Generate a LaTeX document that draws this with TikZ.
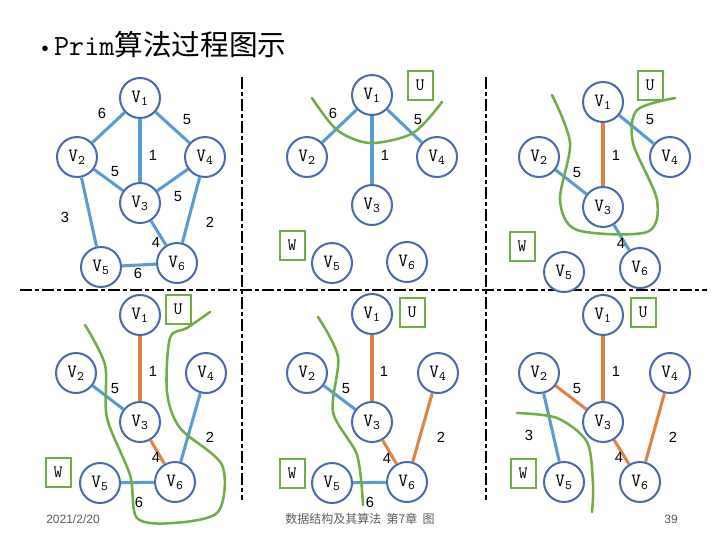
\documentclass[tikz,border=0pt]{standalone}
\usepackage{fontspec}
\setmainfont{Liberation Sans}
\newfontfamily\cjk{Noto Sans CJK SC}
\usetikzlibrary{calc}

\definecolor{vblue}{RGB}{72,104,175}
\definecolor{eblue}{RGB}{91,155,213}
\definecolor{eorange}{RGB}{222,130,70}
\definecolor{cutgreen}{RGB}{112,173,71}
\definecolor{footgray}{RGB}{90,90,90}

\begin{document}
\begin{tikzpicture}[x=0.75pt,y=-0.75pt,
    vtx/.style={circle, draw=vblue, line width=1.5pt, fill=white, minimum size=30pt,
      inner sep=0pt, font=\ttfamily\fontsize{14}{16}\selectfont},
    wt/.style={font=\fontsize{11}{13}\selectfont},
    setbox/.style={draw=cutgreen, line width=1.5pt, minimum width=18.75pt,
      minimum height=21.75pt, inner sep=0pt, font=\ttfamily\fontsize{13}{15}\selectfont},
    cand/.style={eblue, line width=2.3pt},
    tree/.style={eorange, line width=2.3pt},
    cut/.style={cutgreen, line width=1.9pt, line cap=round},
    divider/.style={line width=2.2pt, dash pattern=on 9pt off 2.5pt on 2.5pt off 2.5pt},
    foot/.style={text=footgray, font=\fontsize{9}{11}\selectfont}]

    \useasboundingbox (0,0) rectangle (720,540);

    % Title
    \node[anchor=west] (title) at (37,45)
      {{\fontsize{15}{18}\selectfont\textbullet}\hspace{4pt}{\fontsize{22}{24}\selectfont\ttfamily Prim}{\fontsize{21.5}{24}\selectfont\cjk 算法过程图示}};

    % Dividers
    \draw[divider] (20,290) -- (707,290);
    \draw[divider] (242,77) -- (242,500);
    \draw[divider] (486,77) -- (486,500);

    % ---- Panel a: the whole graph
    \node[vtx] (a1) at (140,98) {V\textsubscript{1}};
    \node[vtx] (a2) at (77,157) {V\textsubscript{2}};
    \node[vtx] (a4) at (205,157) {V\textsubscript{4}};
    \node[vtx] (a3) at (140,203) {V\textsubscript{3}};
    \node[vtx] (a5) at (101,267) {V\textsubscript{5}};
    \node[vtx] (a6) at (177,263) {V\textsubscript{6}};
    \draw[cand] (a1) -- (a2);
    \draw[cand] (a1) -- (a4);
    \draw[cand] (a1) -- (a3);
    \draw[cand] (a2) -- (a3);
    \draw[cand] (a4) -- (a3);
    \draw[cand] (a2) -- (a5);
    \draw[cand] (a4) -- (a6);
    \draw[cand] (a3) -- (a6);
    \draw[cand] (a5) -- (a6);
    \node[wt] (a12) at (102,113) {6};
    \node[wt] (a14) at (187,120) {5};
    \node[wt] (a13) at (153,155) {1};
    \node[wt] (a23) at (115,172) {5};
    \node[wt] (a34) at (178,197) {5};
    \node[wt] (a25) at (65,217) {3};
    \node[wt] (a46) at (210,222) {2};
    \node[wt] (a36) at (156,242) {4};
    \node[wt] (a56) at (138,273) {6};

    % ---- Panel b: U = {V1}
    \node[vtx] (b1) at (372,95) {V\textsubscript{1}};
    \node[vtx] (b2) at (307,157) {V\textsubscript{2}};
    \node[vtx] (b4) at (437,157) {V\textsubscript{4}};
    \node[vtx] (b3) at (372,205) {V\textsubscript{3}};
    \node[vtx] (b5) at (332,263) {V\textsubscript{5}};
    \node[vtx] (b6) at (407,262) {V\textsubscript{6}};
    \node[setbox] (bU) at (420,85) {U};
    \node[setbox] (bW) at (292,245) {W};
    \draw[cand] (b1) -- (b2);
    \draw[cand] (b1) -- (b3);
    \draw[cand] (b1) -- (b4);
    \node[wt] (b12) at (333,113) {6};
    \node[wt] (b14) at (418,120) {5};
    \node[wt] (b13) at (385,155) {1};
    \draw[cut] plot[smooth] coordinates {(312,98) (337,130) (370,143) (413,133) (442,102)};

    % ---- Panel c: U = {V1,V3}
    \node[vtx] (c1) at (603,102) {V\textsubscript{1}};
    \node[vtx] (c2) at (539,157) {V\textsubscript{2}};
    \node[vtx] (c4) at (670,157) {V\textsubscript{4}};
    \node[vtx] (c3) at (603,207) {V\textsubscript{3}};
    \node[vtx] (c5) at (564,272) {V\textsubscript{5}};
    \node[vtx] (c6) at (640,268) {V\textsubscript{6}};
    \node[setbox] (cU) at (650,85) {U};
    \node[setbox] (cW) at (522,246) {W};
    \draw[tree] (c1) -- (c3);
    \draw[cand] (c1) -- (c4);
    \draw[cand] (c2) -- (c3);
    \draw[cand] (c3) -- (c6);
    \node[wt] (c14) at (650,120) {5};
    \node[wt] (c13) at (616,155) {1};
    \node[wt] (c23) at (577,173) {5};
    \node[wt] (c36) at (621,243) {4};
    \draw[cut] plot[smooth] coordinates {(552,95) (570,143) (560,200) (577,230) (647,232)
      (657,200) (633,143) (637,110) (675,98)};

    % ---- Panel d: U = {V1,V3,V6}
    \node[vtx] (d1) at (140,315) {V\textsubscript{1}};
    \node[vtx] (d2) at (76,373) {V\textsubscript{2}};
    \node[vtx] (d4) at (206,373) {V\textsubscript{4}};
    \node[vtx] (d3) at (140,422) {V\textsubscript{3}};
    \node[vtx] (d5) at (100,483) {V\textsubscript{5}};
    \node[vtx] (d6) at (175,482) {V\textsubscript{6}};
    \node[setbox] (dU) at (178,309) {U};
    \node[setbox] (dW) at (58,472) {W};
    \draw[tree] (d1) -- (d3);
    \draw[cand] (d2) -- (d3);
    \draw[tree] (d3) -- (d6);
    \draw[cand] (d4) -- (d6);
    \draw[cand] (d5) -- (d6);
    \node[wt] (d13) at (153,371) {1};
    \node[wt] (d23) at (115,389) {5};
    \node[wt] (d46) at (210,437) {2};
    \node[wt] (d36) at (156,457) {4};
    \node[wt] (d56) at (139,502) {6};
    \draw[cut] plot[smooth] coordinates {(85,325) (105,365) (107,418) (130,475) (137,518)
      (173,523) (218,512) (222,465) (180,428) (167,392) (170,338) (187,328) (210,312)};

    % ---- Panel e: U = {V1,V3,V6,V4}
    \node[vtx] (e1) at (372,314) {V\textsubscript{1}};
    \node[vtx] (e2) at (307,373) {V\textsubscript{2}};
    \node[vtx] (e4) at (438,373) {V\textsubscript{4}};
    \node[vtx] (e3) at (372,422) {V\textsubscript{3}};
    \node[vtx] (e5) at (332,483) {V\textsubscript{5}};
    \node[vtx] (e6) at (407,482) {V\textsubscript{6}};
    \node[setbox] (eU) at (412,312) {U};
    \node[setbox] (eW) at (292,473) {W};
    \draw[tree] (e1) -- (e3);
    \draw[cand] (e2) -- (e3);
    \draw[tree] (e3) -- (e6);
    \draw[tree] (e4) -- (e6);
    \draw[cand] (e5) -- (e6);
    \node[wt] (e13) at (384,371) {1};
    \node[wt] (e23) at (346,389) {5};
    \node[wt] (e46) at (441,437) {2};
    \node[wt] (e36) at (387,458) {4};
    \node[wt] (e56) at (370,502) {6};
    \draw[cut] plot[smooth] coordinates {(318,317) (338,357) (333,412) (357,455) (363,505)};

    % ---- Panel f: U = {V1,V3,V6,V4,V2}
    \node[vtx] (f1) at (603,315) {V\textsubscript{1}};
    \node[vtx] (f2) at (539,373) {V\textsubscript{2}};
    \node[vtx] (f4) at (670,373) {V\textsubscript{4}};
    \node[vtx] (f3) at (603,422) {V\textsubscript{3}};
    \node[vtx] (f5) at (564,482) {V\textsubscript{5}};
    \node[vtx] (f6) at (640,482) {V\textsubscript{6}};
    \node[setbox] (fU) at (643,312) {U};
    \node[setbox] (fW) at (523,473) {W};
    \draw[tree] (f1) -- (f3);
    \draw[tree] (f2) -- (f3);
    \draw[cand] (f2) -- (f5);
    \draw[tree] (f3) -- (f6);
    \draw[tree] (f4) -- (f6);
    \node[wt] (f13) at (616,371) {1};
    \node[wt] (f23) at (577,389) {5};
    \node[wt] (f25) at (529,435) {3};
    \node[wt] (f46) at (673,437) {2};
    \node[wt] (f36) at (619,457) {4};
    \draw[cut] plot[smooth] coordinates {(517,413) (557,418) (587,442) (593,485) (592,512)};

    % Footer
    \node[foot] (date) at (73,519) {2021/2/20};
    \node[foot] (chap) at (360,519) {\cjk 数据结构及其算法\ \ 第7章\ \ 图};
    \node[foot] (page) at (671,519) {39};
\end{tikzpicture}
\end{document}
